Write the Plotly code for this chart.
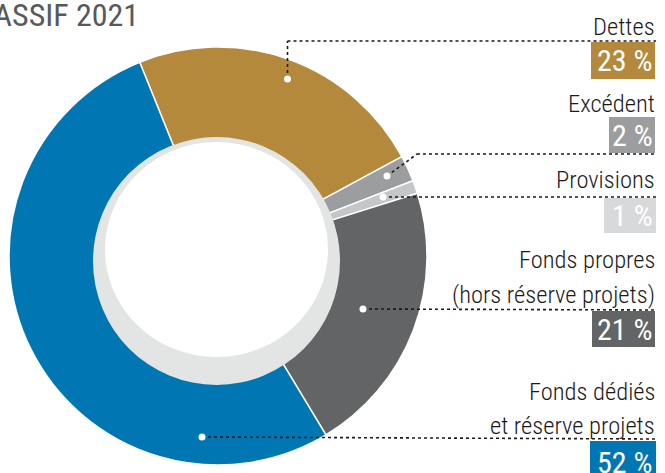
import plotly.graph_objects as go

# ---- data ----
labels = ["Dettes", "Excédent", "Provisions", "Fonds propres", "Fonds dédiés"]
label_lines = [["Dettes"], ["Excédent"], ["Provisions"],
               ["Fonds propres", "(hors réserve projets)"],
               ["Fonds dédiés", "et réserve projets"]]
values = [23, 2, 1, 21, 52]
pct_texts = ["23 %", "2 %", "1 %", "21 %", "52 %"]
title_text = "PASSIF 2021"

# ---- styles ----
slice_colors = ["#b5893b", "#9c9d9f", "#c5c6c8", "#636466", "#0077b3"]
box_colors = ["#b5893b", "#9c9d9f", "#d8d9da", "#636466", "#0077b3"]
W, H = 665, 473
FONT = "Roboto Condensed, DejaVu Sans Condensed, sans-serif"
LABEL_SIZE = 24.5
PCT_SIZE = 30
TITLE_SIZE = 32


def px(x):
    return x / W


def py(y):
    return 1 - y / H


# pie geometry (pixels)
cx, cy, R = 218, 256, 209

fig = go.Figure()
fig.add_trace(go.Pie(
    labels=labels, values=values, sort=False, direction="clockwise",
    rotation=-22, hole=0.56, textinfo="none", hoverinfo="label+percent",
    marker=dict(colors=slice_colors, line=dict(color="white", width=1.5)),
    domain=dict(x=[px(cx - R), px(cx + R)], y=[py(cy + R), py(cy - R)]),
    showlegend=False,
))

shapes = []
# inner grey ring and white centre
shapes.append(dict(type="circle", xref="paper", yref="paper",
                   x0=px(93), x1=px(340), y0=py(385), y1=py(137),
                   fillcolor="#e3e4e4", line=dict(width=0)))
shapes.append(dict(type="circle", xref="paper", yref="paper",
                   x0=px(105), x1=px(328), y0=py(357), y1=py(142),
                   fillcolor="white", line=dict(width=0)))

# leader lines (pixel paths) and dots
leaders = [
    [(287.5, 79), (287.5, 41), (656, 41)],
    [(387, 176), (417, 154), (656, 154)],
    [(383, 197), (656, 197)],
    [(363, 309), (656, 310)],
    [(202, 437), (656, 439)],
]
for pts in leaders:
    for (x0, y0), (x1, y1) in zip(pts[:-1], pts[1:]):
        shapes.append(dict(type="line", xref="paper", yref="paper",
                           x0=px(x0), y0=py(y0), x1=px(x1), y1=py(y1),
                           line=dict(color="#1a1a1a", width=1.6, dash="dot")))
for pts in leaders:
    x, y = pts[0]
    r = 3.5
    shapes.append(dict(type="circle", xref="paper", yref="paper",
                       x0=px(x - r), x1=px(x + r), y0=py(y + r), y1=py(y - r),
                       fillcolor="white", line=dict(width=0)))

# percent boxes
boxes = [(591, 42, 655, 79), (609, 117, 655, 153), (604, 198, 656, 233),
         (592, 311, 655, 347), (590, 441, 656, 490)]
for (x0, y0, x1, y1), c in zip(boxes, box_colors):
    shapes.append(dict(type="rect", xref="paper", yref="paper",
                       x0=px(x0), x1=px(x1), y0=py(y1), y1=py(y0),
                       fillcolor=c, line=dict(width=0)))

annotations = []
# label baselines (pixels)
label_baselines = [[35], [112], [188], [268, 303], [400, 434]]
for lines, bases in zip(label_lines, label_baselines):
    for t, b in zip(lines, bases):
        annotations.append(dict(text=t, xref="paper", yref="paper", x=px(657),
                                y=py(b - 0.365 * LABEL_SIZE),
                                xanchor="right", yanchor="middle", align="right",
                                showarrow=False,
                                font=dict(family=FONT, size=LABEL_SIZE, weight=300,
                                          color="#1a1a1a")))
pct_y = [60.5, 135, 215.5, 329, 462]
for t, y in zip(pct_texts, pct_y):
    annotations.append(dict(text=t, xref="paper", yref="paper", x=px(655), y=py(y),
                            xanchor="right", yanchor="middle", align="right",
                            showarrow=False,
                            font=dict(family=FONT, size=PCT_SIZE, color="white")))
annotations.append(dict(text=title_text, xref="paper", yref="paper", x=px(141),
                        y=py(27 - 0.36 * TITLE_SIZE),
                        xanchor="right", yanchor="middle", showarrow=False,
                        font=dict(family=FONT, size=TITLE_SIZE, color="#58595b")))

fig.update_layout(width=W, height=H, margin=dict(l=0, r=0, t=0, b=0),
                  paper_bgcolor="white", plot_bgcolor="white",
                  shapes=shapes, annotations=annotations)
fig.write_html("out.html", config={"displayModeBar": False},
               post_script="document.body.style.margin='0px';"
                           "document.body.style.overflow='hidden';")
